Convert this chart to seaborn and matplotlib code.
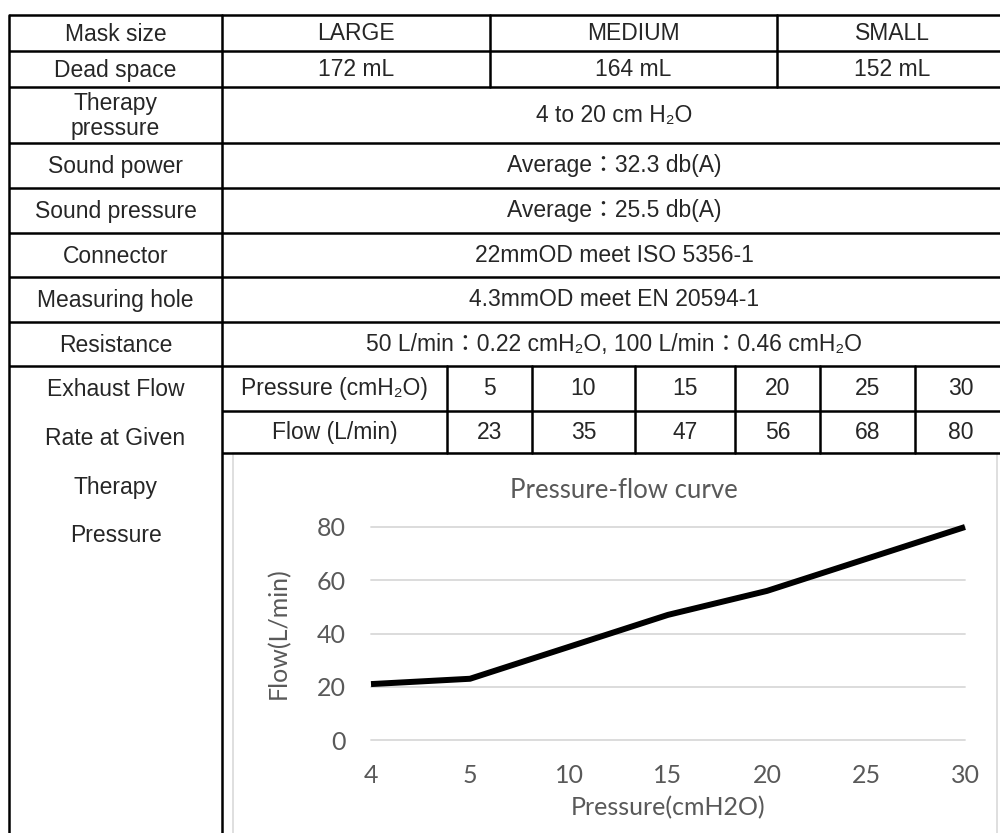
import numpy as np
import pandas as pd
import seaborn as sns
import matplotlib.pyplot as plt
from matplotlib.patches import Rectangle

# table contents
mask_sizes = ['LARGE', 'MEDIUM', 'SMALL']
dead_space = ['172 mL', '164 mL', '152 mL']
row_labels = ['Mask size', 'Dead space', 'Therapy\npressure', 'Sound power',
              'Sound pressure', 'Connector', 'Measuring hole', 'Resistance']
merged_values = ['4 to 20 cm H₂O', 'Average：32.3 db(A)', 'Average：25.5 db(A)',
                 '22mmOD meet ISO 5356-1', '4.3mmOD meet EN 20594-1',
                 '50 L/min：0.22 cmH₂O, 100 L/min：0.46 cmH₂O']
exhaust_label = ['Exhaust Flow', 'Rate at Given', 'Therapy', 'Pressure']
table_pressure = ['5', '10', '15', '20', '25', '30']
table_flow = ['23', '35', '47', '56', '68', '80']

# chart values
curve_pressure = ['4', '5', '10', '15', '20', '25', '30']
curve_flow = [21, 23, 35, 47, 56, 68, 80]

sns.set_style('white')
table_font = ['Liberation Sans', 'Noto Sans CJK TC', 'DejaVu Sans']
chart_font = ['Lato', 'DejaVu Sans']
grey = '#595959'

W, H = 1000, 833
fig = plt.figure(figsize=(10, 8.33), dpi=100)

# overlay axes in pixel coordinates for the table
tab = fig.add_axes([0, 0, 1, 1])
tab.set_xlim(0, W)
tab.set_ylim(H, 0)
tab.axis('off')

row_y = [15, 51, 87, 143, 188, 233, 277, 322, 366, 411, 453]
x_left, x_col1, x_right = 9, 222, 1007
size_x = [222, 490, 777, 1007]
sub_x = [222, 447, 532, 635, 735, 820, 915, 1007]
lw = 1.8

# horizontal rules
for y in row_y[:10]:
    x0 = x_col1 if y == 411 else x_left
    tab.plot([x0, x_right], [y, y], color='black', lw=lw, solid_capstyle='butt')
tab.plot([x_col1, x_right], [453, 453], color='black', lw=lw, solid_capstyle='butt')
# vertical rules
tab.plot([x_left, x_left], [15, H], color='black', lw=lw)
tab.plot([x_col1, x_col1], [15, H], color='black', lw=lw)
for x in size_x[1:3]:
    tab.plot([x, x], [15, 87], color='black', lw=lw)
for x in sub_x[1:7]:
    tab.plot([x, x], [366, 453], color='black', lw=lw)

fs = 16.5
col1_c = (x_left + x_col1) / 2
for i, lab in enumerate(row_labels):
    yc = (row_y[i] + row_y[i + 1]) / 2
    tab.text(col1_c, yc + 1, lab, ha='center', va='center', fontsize=fs,
             family=table_font, linespacing=1.15)

for i in range(3):
    xc = (size_x[i] + size_x[i + 1]) / 2
    tab.text(xc, (row_y[0] + row_y[1]) / 2, mask_sizes[i], ha='center', va='center',
             fontsize=fs, family=table_font)
    tab.text(xc, (row_y[1] + row_y[2]) / 2, dead_space[i], ha='center', va='center',
             fontsize=fs, family=table_font)

merged_c = (x_col1 + x_right) / 2
for i, val in enumerate(merged_values):
    yc = (row_y[i + 2] + row_y[i + 3]) / 2
    tab.text(merged_c, yc, val, ha='center', va='center', fontsize=fs, family=table_font)

for i, lab in enumerate(exhaust_label):
    tab.text(col1_c, 389 + i * 49, lab, ha='center', va='center', fontsize=fs,
             family=table_font)

sub_rows = [['Pressure (cmH₂O)'] + table_pressure, ['Flow (L/min)'] + table_flow]
for r, cells in enumerate(sub_rows):
    yc = (row_y[8 + r] + row_y[9 + r]) / 2
    for j, val in enumerate(cells):
        xc = (sub_x[j] + sub_x[j + 1]) / 2
        tab.text(xc, yc, val, ha='center', va='center', fontsize=fs, family=table_font)

# chart frame
tab.add_patch(Rectangle((233, 453), 997 - 233, 400, facecolor='white',
                        edgecolor='#d9d9d9', lw=1.2))
tab.text(624, 490, 'Pressure-flow curve', ha='center', va='center', fontsize=18.5,
         color=grey, family=chart_font)

# line chart
ax = fig.add_axes([371 / W, (H - 740) / H, (965 - 371) / W, (740 - 527) / H])
ax.set_facecolor('none')
df = pd.DataFrame({'Pressure': curve_pressure, 'Flow': curve_flow})
sns.lineplot(data=df, x='Pressure', y='Flow', sort=False, color='black', lw=4.3,
             ax=ax, solid_capstyle='butt', clip_on=False)
ax.set_xlim(0, len(curve_pressure) - 1)
ax.set_ylim(0, 80)
ax.set_yticks([0, 20, 40, 60, 80])
ax.grid(axis='y', color='#d9d9d9', lw=1.3)
ax.grid(axis='x', visible=False)
for gl in ax.get_ygridlines():
    gl.set_clip_on(False)
sns.despine(ax=ax, left=True, bottom=True)
ax.tick_params(axis='both', length=0, colors=grey, labelsize=18)
ax.tick_params(axis='y', pad=18)
ax.tick_params(axis='x', pad=17)
for t in ax.get_xticklabels() + ax.get_yticklabels():
    t.set_family(chart_font)
ax.set_xlabel('Pressure(cmH2O)', fontsize=18, color=grey, family=chart_font, labelpad=7)
ax.set_ylabel('Flow(L/min)', fontsize=18, color=grey, family=chart_font, labelpad=19)

fig.savefig('out.png', dpi=100)
